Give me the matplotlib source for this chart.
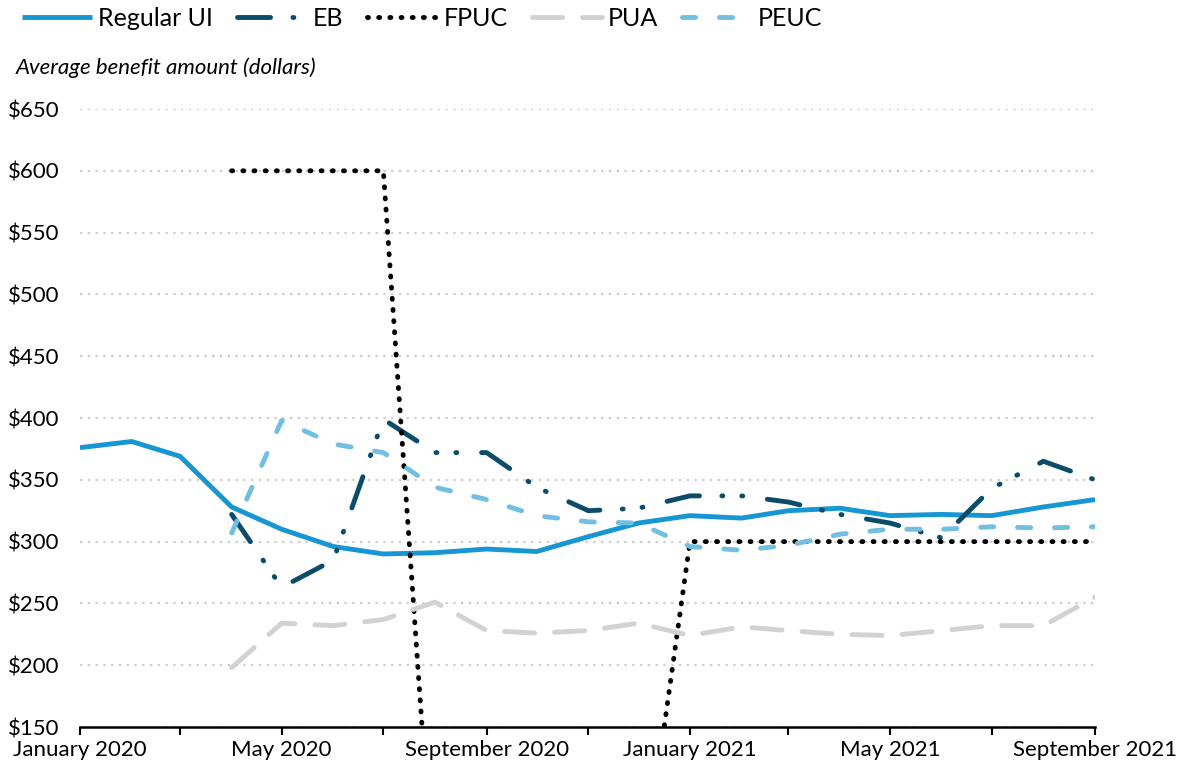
import pandas as pd
import matplotlib.pyplot as plt
import matplotlib.dates as mdates
import numpy as np

plt.rcParams['font.family'] = ['Lato', 'DejaVu Sans']

months = pd.date_range('2020-01-01', '2021-09-01', freq='MS')
nan = np.nan

regular_ui = [376, 381, 369, 328, 310, 296, 290, 291, 294, 292, 304, 315,
              321, 319, 325, 327, 321, 322, 321, 328, 334]
eb = [nan, nan, nan, 322, 263, 285, 399, 372, 372, 344, 325, 327,
      337, 337, 332, 322, 315, 303, 343, 365, 350]
fpuc = [nan, nan, nan, 600, 600, 600, 600, 0, 0, 0, 0, 0,
        300, 300, 300, 300, 300, 300, 300, 300, 300]
pua = [nan, nan, nan, 198, 234, 232, 237, 251, 228, 226, 228, 234,
       224, 231, 228, 225, 224, 228, 232, 232, 255]
peuc = [nan, nan, nan, 307, 398, 379, 372, 344, 334, 321, 316, 315,
        296, 293, 297, 306, 310, 310, 312, 311, 312]

series = [
    ('Regular UI', regular_ui, '#1696d2', '-'),
    ('EB', eb, '#0a4c6a', (0, (6.8, 4.6, 0.2, 3.9, 0.2, 5.1))),
    ('FPUC', fpuc, '#000000', (0, (0.2, 2.1))),
    ('PUA', pua, '#d2d2d2', (0, (6.2, 4.1))),
    ('PEUC', peuc, '#73bfe2', (0, (2.7, 4.9))),
]

fig = plt.figure(figsize=(11.83, 7.69), dpi=100)
ax = fig.add_axes([80 / 1183, 1 - 727 / 769, (1095 - 80) / 1183, (727 - 109) / 769])

for name, vals, color, ls in series:
    ax.plot(months, vals, color=color, linestyle=ls, linewidth=3.5,
            dash_capstyle='round', solid_capstyle='butt', label=name)

ax.set_xlim(months[0], months[-1])
ax.set_ylim(150, 650)
ax.set_yticks(range(150, 651, 50))
ax.yaxis.set_major_formatter(lambda v, p: '${:.0f}'.format(v))
ax.grid(axis='y', color='#cccccc', linestyle=(0, (1, 2.5)), linewidth=1.6)
ax.set_axisbelow(True)

ax.xaxis.set_major_locator(mdates.MonthLocator(bymonth=[1, 5, 9]))
ax.xaxis.set_minor_locator(mdates.MonthLocator(bymonth=[3, 7, 11]))
ax.xaxis.set_major_formatter(mdates.DateFormatter('%B %Y'))

for s in ['top', 'right', 'left']:
    ax.spines[s].set_visible(False)
ax.spines['bottom'].set_linewidth(1.8)
ax.spines['bottom'].set_zorder(5)

ax.tick_params(axis='y', length=0, pad=15, labelsize=16)
ax.tick_params(axis='x', which='both', length=6, width=1.5, pad=3, labelsize=16)

fig.text(16 / 1183, 1 - 68 / 769, 'Average benefit amount (dollars)',
         fontsize=16, style='italic', va='center', ha='left')

fig.legend(loc='center left', bbox_to_anchor=(22 / 1183, 1 - 18 / 769), ncol=5,
           frameon=False, fontsize=18, handlelength=2.8, handletextpad=0.24,
           columnspacing=0.96, borderaxespad=0, borderpad=0)

fig.savefig('out.png', dpi=100)
